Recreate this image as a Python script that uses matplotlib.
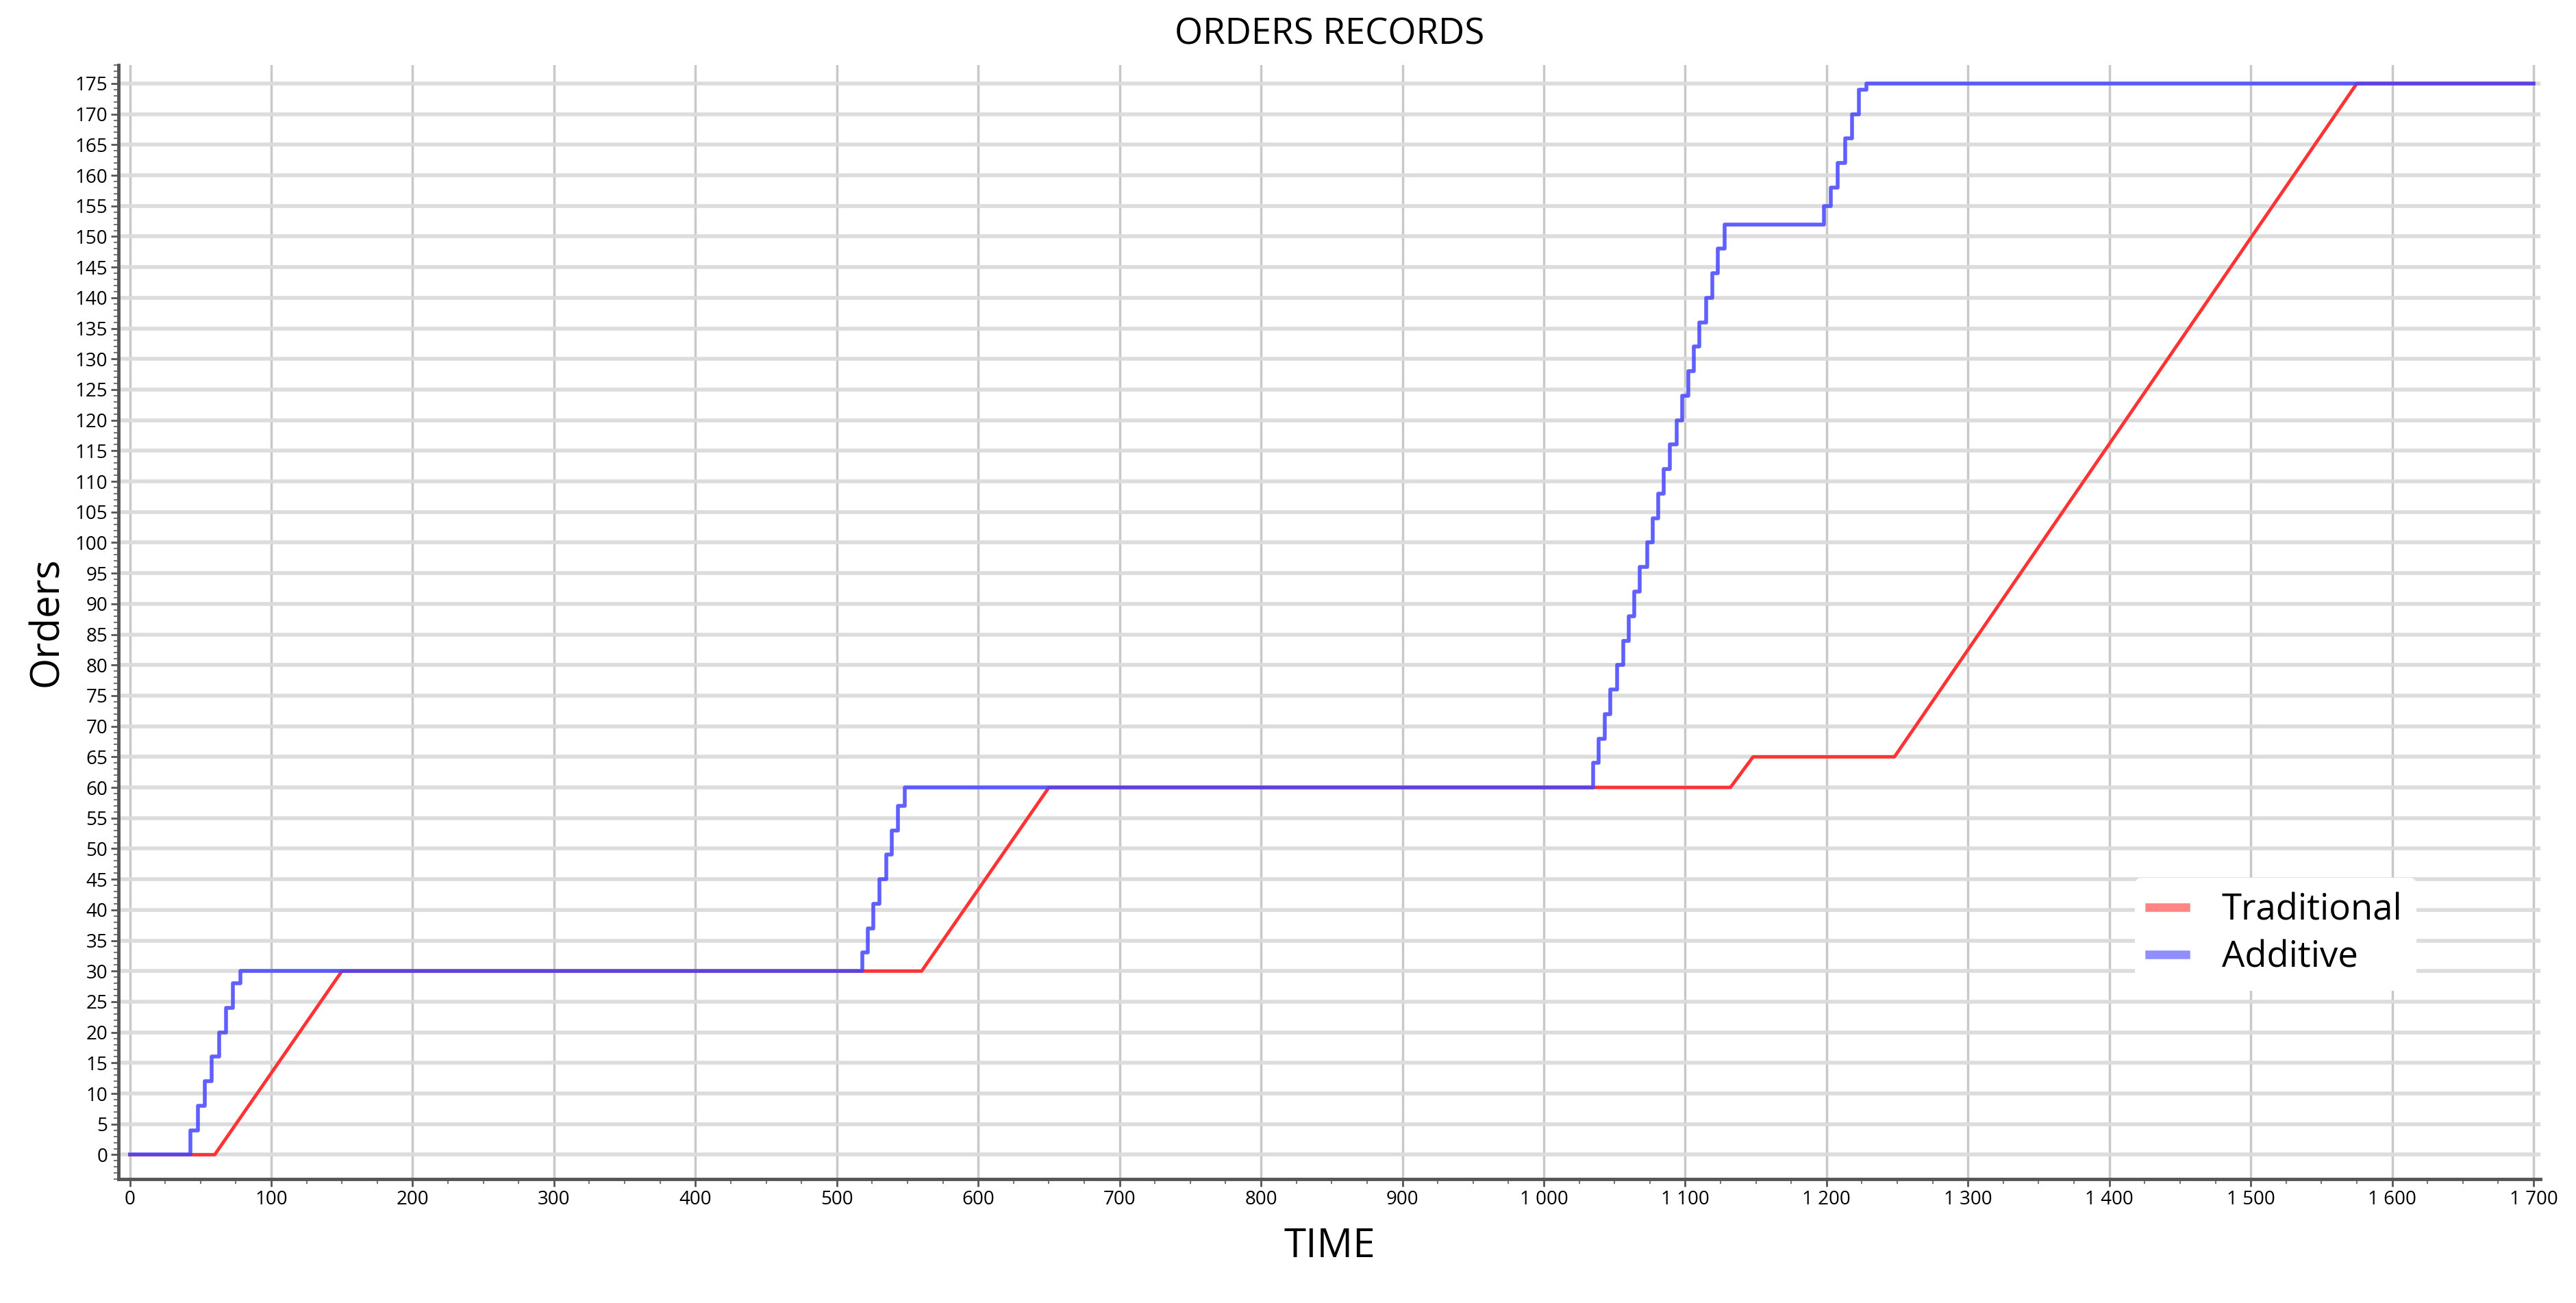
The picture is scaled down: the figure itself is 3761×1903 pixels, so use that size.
import matplotlib
matplotlib.use('Agg')
import matplotlib.pyplot as plt
from matplotlib.ticker import MultipleLocator, FuncFormatter

# Traditional (red): linear ramps
trad_t = [0, 60, 150, 560, 650, 1132, 1148, 1248, 1575, 1700]
trad_y = [0, 0, 30, 30, 60, 60, 65, 65, 175, 175]

# Additive (blue): step ramps
add_t = [0, 43, 48, 53, 58, 63, 68, 73, 78, 518, 522, 526, 530, 535, 539, 543, 548,
         1035, 1039, 1043, 1047, 1052, 1056, 1060, 1064, 1068, 1073, 1077, 1081,
         1085, 1089, 1094, 1098, 1102, 1106, 1110, 1115, 1119, 1123, 1128,
         1198, 1203, 1208, 1213, 1218, 1223, 1228, 1700]
add_y = [0, 4, 8, 12, 16, 20, 24, 28, 30, 33, 37, 41, 45, 49, 53, 57, 60,
         64, 68, 72, 76, 80, 84, 88, 92, 96, 100, 104, 108,
         112, 116, 120, 124, 128, 132, 136, 140, 144, 148, 152,
         155, 158, 162, 166, 170, 174, 175, 175]

plt.rcParams['font.family'] = ['Open Sans', 'DejaVu Sans']

fig = plt.figure(figsize=(37.62, 19.03), dpi=100)
ax = fig.add_axes([0.046, 0.095, 0.94, 0.855])

ax.plot(trad_t, trad_y, color='#ff3333', lw=3.5, label='Traditional', zorder=3)
ax.step(add_t, add_y, where='post', color='#4444ff', lw=4, alpha=0.85, label='Additive', zorder=4)

ax.set_xlim(-8, 1705)
ax.set_ylim(-4, 178)
ax.xaxis.set_major_locator(MultipleLocator(100))
ax.xaxis.set_minor_locator(MultipleLocator(25))
ax.yaxis.set_major_locator(MultipleLocator(5))
ax.yaxis.set_minor_locator(MultipleLocator(1))
ax.xaxis.set_major_formatter(FuncFormatter(lambda v, p: f"{int(v):,}".replace(',', ' ')))

ax.grid(axis='x', which='major', color='#c8c8c8', lw=2.5)
ax.grid(axis='y', which='major', color='#dcdcdc', lw=4)
ax.set_axisbelow(True)
for s in ['top', 'right']:
    ax.spines[s].set_visible(False)
for s in ['left', 'bottom']:
    ax.spines[s].set_color('#555555')
    ax.spines[s].set_linewidth(3.5)
ax.tick_params(which='major', labelsize=20, length=8, width=2, color='#555555')
ax.tick_params(which='minor', length=5, width=1.5, color='#777777')

ax.set_title('ORDERS RECORDS', fontsize=38, pad=22)
ax.set_xlabel('TIME', fontsize=42, labelpad=18)
ax.set_ylabel('Orders', fontsize=42, labelpad=8)

leg = ax.legend(loc='center left', bbox_to_anchor=(0.825, 0.22), fontsize=38,
                frameon=True, edgecolor='none', facecolor='white', framealpha=1,
                handlelength=1.0, handletextpad=1.0, labelspacing=0.3)
for h in leg.get_lines():
    h.set_linewidth(9)
    h.set_alpha(0.6)

fig.savefig('out.png', dpi=100, facecolor='white')
